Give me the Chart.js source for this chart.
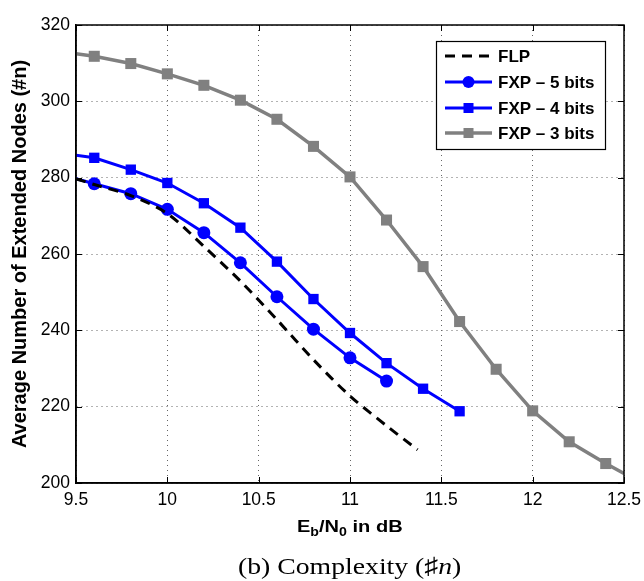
<!DOCTYPE html>
<html>
<head>
<meta charset="utf-8">
<script src="https://cdn.jsdelivr.net/npm/chart.js@4.4.0/dist/chart.umd.min.js"></script>
<style>
  html, body { margin: 0; padding: 0; background: #fff; }
  #wrap { position: relative; width: 644px; height: 581px; overflow: hidden; }
  canvas { position: absolute; left: 0; top: 0; }
  .lbl { position: absolute; left: 0; width: 700px; text-align: center; white-space: nowrap; }
  .lbl span { display: inline-block; transform: scaleX(1.18); transform-origin: center; }
  #xtitle { top: 518px; font: bold 17px "Liberation Sans", Arial, sans-serif; line-height: 17px; }
  #xtitle sub { font-size: 12px; vertical-align: -4px; line-height: 0; }
  #caption { top: 555px; font: 23.5px "Liberation Serif", "Times New Roman", serif; line-height: 23px; }
</style>
</head>
<body>
<div id="wrap">
  <canvas id="c" width="644" height="581"></canvas>
  <div id="xtitle" class="lbl"><span>E<sub>b</sub>/N<sub>0</sub> in dB</span></div>
  <div id="caption" class="lbl"><span>(b) Complexity (♯<i>n</i>)</span></div>
</div>
<script>
// ---- Data ----
const xTicks = [9.5, 10, 10.5, 11, 11.5, 12, 12.5];
const yTicks = [200, 220, 240, 260, 280, 300, 320];

const flpX = [9.5, 9.6, 9.8, 10.0, 10.2, 10.4, 10.6, 10.8, 11.0, 11.2, 11.37];
const flpY = [279.7, 278.2, 275.3, 270.6, 262.0, 252.9, 242.8, 232.3, 222.8, 215.0, 208.7];

const fxp5X = [9.5, 9.6, 9.8, 10.0, 10.2, 10.4, 10.6, 10.8, 11.0, 11.2];
const fxp5Y = [279.7, 278.4, 275.8, 271.7, 265.6, 257.7, 248.8, 240.3, 232.8, 226.7];

const fxp4X = [9.5, 9.6, 9.8, 10.0, 10.2, 10.4, 10.6, 10.8, 11.0, 11.2, 11.4, 11.6];
const fxp4Y = [285.9, 285.2, 282.1, 278.6, 273.3, 266.9, 258.0, 248.2, 239.3, 231.4, 224.7, 218.8];

const fxp3X = [9.5, 9.6, 9.8, 10.0, 10.2, 10.4, 10.6, 10.8, 11.0, 11.2, 11.4, 11.6, 11.8, 12.0, 12.2, 12.4, 12.5];
const fxp3Y = [312.5, 311.8, 309.9, 307.2, 304.2, 300.3, 295.3, 288.2, 280.2, 268.9, 256.7, 242.3, 229.8, 218.9, 210.8, 205.1, 202.5];

const seriesNames = ['FLP', 'FXP \u2013 5 bits', 'FXP \u2013 4 bits', 'FXP \u2013 3 bits'];

// ---- Helpers ----
function pts(xs, ys) { return xs.map((x, i) => ({ x: x, y: ys[i] })); }
// markers only on the measured grid points (not on the frame-edge points)
function markerRadius(r) {
  return ctx => {
    const v = ctx.raw;
    if (!v) return r;
    return (v.x <= 9.5 || v.x >= 12.5) ? 0 : r;
  };
}

const BLUE = '#0000ff';
const GRAY = '#808080';
const SANS = '"Liberation Sans", Arial, Helvetica, sans-serif';

// Frame, inward ticks and in-plot legend
const decor = {
  id: 'decor',
  afterDatasetsDraw(chart) {
    const { ctx, chartArea: a, scales: { x, y } } = chart;
    ctx.save();
    ctx.strokeStyle = '#000';
    ctx.lineWidth = 1.5;
    ctx.setLineDash([]);
    ctx.strokeRect(a.left, a.top, a.right - a.left, a.bottom - a.top);
    ctx.lineWidth = 1;
    const tl = 6;
    ctx.beginPath();
    xTicks.forEach(v => {
      const px = Math.round(x.getPixelForValue(v)) + 0.5;
      ctx.moveTo(px, a.bottom); ctx.lineTo(px, a.bottom - tl);
      ctx.moveTo(px, a.top); ctx.lineTo(px, a.top + tl);
    });
    yTicks.forEach(v => {
      const py = Math.round(y.getPixelForValue(v)) + 0.5;
      ctx.moveTo(a.left, py); ctx.lineTo(a.left + tl, py);
      ctx.moveTo(a.right, py); ctx.lineTo(a.right - tl, py);
    });
    ctx.stroke();

    // legend
    const L = 436, T = 41, R = 605, B = 149;
    ctx.fillStyle = '#fff';
    ctx.fillRect(L, T, R - L, B - T);
    ctx.strokeStyle = '#000';
    ctx.lineWidth = 1.2;
    ctx.strokeRect(L + 0.5, T + 0.5, R - L, B - T);
    const rows = [56, 82, 108, 133];
    const ds = chart.data.datasets;
    rows.forEach((ry, i) => {
      const d = ds[i];
      ctx.save();
      ctx.strokeStyle = d.borderColor;
      ctx.lineWidth = d.borderWidth;
      ctx.setLineDash(d.borderDash || []);
      ctx.beginPath();
      ctx.moveTo(445, ry); ctx.lineTo(492, ry);
      ctx.stroke();
      ctx.setLineDash([]);
      ctx.fillStyle = d.pointBackgroundColor || d.borderColor;
      if (d.pointStyle === 'circle') {
        ctx.beginPath(); ctx.arc(468.5, ry, 6, 0, Math.PI * 2); ctx.fill();
      } else if (d.pointStyle === 'rect' && i > 0) {
        ctx.fillRect(468.5 - 5, ry - 5, 10, 10);
      }
      ctx.restore();
      ctx.fillStyle = '#000';
      ctx.font = 'bold 17px ' + SANS;
      ctx.textBaseline = 'middle';
      ctx.textAlign = 'left';
      ctx.fillText(seriesNames[i], 498, ry + 1);
    });
    ctx.restore();
  }
};

new Chart(document.getElementById('c'), {
  type: 'line',
  data: {
    datasets: [
      {
        label: seriesNames[0], data: pts(flpX, flpY),
        borderColor: '#000', borderWidth: 3, borderDash: [10, 7],
        pointRadius: 0, pointStyle: false, tension: 0.3
      },
      {
        label: seriesNames[1], data: pts(fxp5X, fxp5Y),
        borderColor: BLUE, backgroundColor: BLUE, pointBackgroundColor: BLUE,
        borderWidth: 3, pointStyle: 'circle', pointRadius: markerRadius(6.5),
        pointBorderWidth: 0, tension: 0
      },
      {
        label: seriesNames[2], data: pts(fxp4X, fxp4Y),
        borderColor: BLUE, backgroundColor: BLUE, pointBackgroundColor: BLUE,
        borderWidth: 3, pointStyle: 'rect', pointRadius: markerRadius(7.3),
        pointBorderWidth: 0, tension: 0
      },
      {
        label: seriesNames[3], data: pts(fxp3X, fxp3Y),
        borderColor: GRAY, backgroundColor: GRAY, pointBackgroundColor: GRAY,
        borderWidth: 3.5, pointStyle: 'rect', pointRadius: markerRadius(7.8),
        pointBorderWidth: 0, tension: 0
      }
    ]
  },
  options: {
    responsive: false,
    animation: false,
    devicePixelRatio: 1,
    layout: { padding: { top: 25, right: 20, left: 0, bottom: 0 } },
    plugins: { legend: { display: false }, tooltip: { enabled: false }, title: { display: false } },
    scales: {
      x: {
        type: 'linear', min: 9.5, max: 12.5,
        afterBuildTicks: s => { s.ticks = xTicks.map(v => ({ value: v })); },
        afterFit: s => { s.height = 98; s.paddingLeft = 0; s.paddingRight = 0; },
        grid: { color: '#666', lineWidth: 1, drawTicks: false },
        border: { display: true, color: '#000', width: 1.5, dash: [1, 4] },
        ticks: {
          color: '#000', padding: 7, maxRotation: 0,
          font: { family: SANS, size: 17.5 },
          callback: v => String(v)
        }
      },
      y: {
        type: 'linear', min: 200, max: 320,
        afterBuildTicks: s => { s.ticks = yTicks.map(v => ({ value: v })); },
        afterFit: s => { s.width = 76; s.paddingTop = 0; s.paddingBottom = 0; },
        grid: { color: '#666', lineWidth: 1, drawTicks: false },
        border: { display: true, color: '#000', width: 1.5, dash: [1, 4] },
        ticks: {
          color: '#000', padding: 6,
          font: { family: SANS, size: 17.5 },
          callback: v => String(v)
        },
        title: {
          display: true,
          text: 'Average Number of Extended Nodes (#n)',
          color: '#000',
          font: { family: SANS, size: 20, weight: 'bold' },
          padding: { top: 8, bottom: 0 }
        }
      }
    }
  },
  plugins: [decor]
});
</script>
</body>
</html>
